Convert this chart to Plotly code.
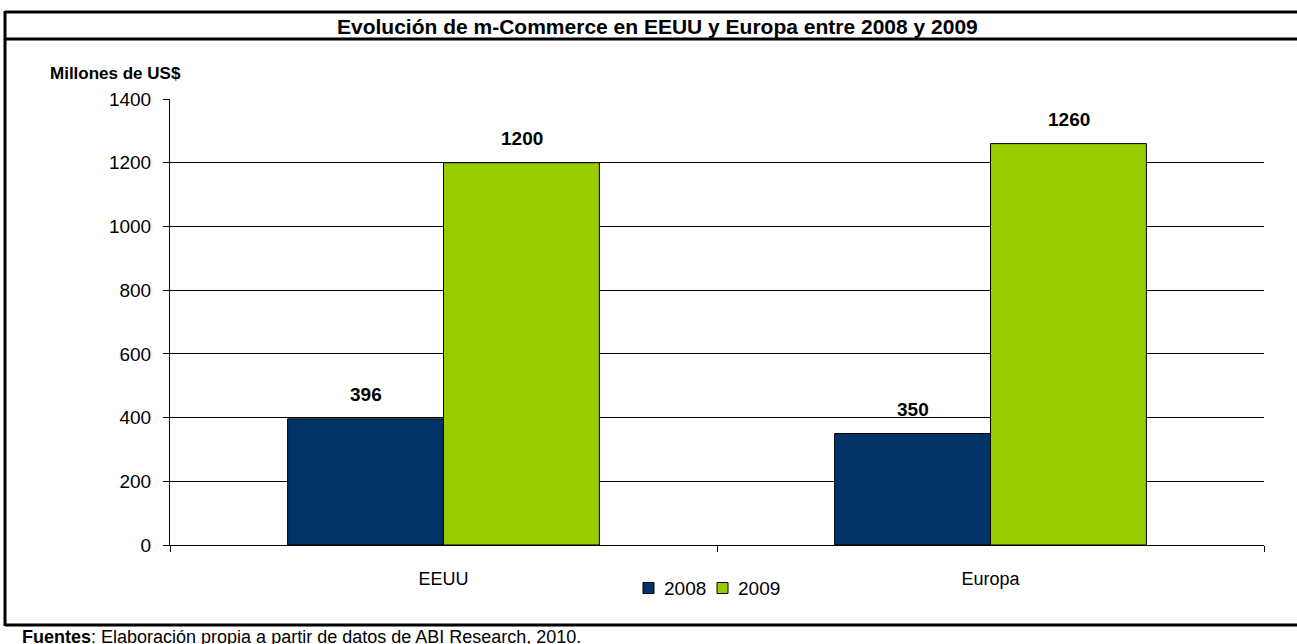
import plotly.graph_objects as go

categories = ["EEUU", "Europa"]
series_names = ["2008", "2009"]
values_2008 = [396, 350]
values_2009 = [1200, 1260]
colors = ["#003366", "#99CC00"]
y_ticks = [0, 200, 400, 600, 800, 1000, 1200, 1400]

title_text = "<b>Evolución de m-Commerce en EEUU y Europa entre 2008 y 2009</b>"
ylabel_text = "<b>Millones de US$</b>"
footer_text = "<b>Fuentes</b>: Elaboración propia a partir de datos de ABI Research, 2010."

W, H = 1297, 644
L, R, T, B = 170, 1264, 99, 545

def px(x):
    return (x - L) / (R - L)

def py(y):
    return (B - y) / (B - T)

fig = go.Figure()
for name, vals, col in zip(series_names, [values_2008, values_2009], colors):
    fig.add_trace(go.Bar(
        x=categories, y=vals, name=name,
        marker=dict(color=col, line=dict(color="black", width=1)),
    ))

FONT = "Liberation Sans, Arial, sans-serif"

annotations = []
bar_half = 78
for vals, shift in [(values_2008, -bar_half), (values_2009, bar_half)]:
    for c, v in zip(categories, vals):
        annotations.append(dict(
            x=c, y=v, xref="x", yref="y", text=f"<b>{v}</b>",
            showarrow=False, xshift=shift, yshift=24, yanchor="middle",
            font=dict(family=FONT, size=19, color="black"),
        ))

annotations += [
    dict(x=px(657), y=py(26), xref="paper", yref="paper", text=title_text,
         showarrow=False, xanchor="center", yanchor="middle",
         font=dict(family=FONT, size=21, color="black")),
    dict(x=px(48), y=py(74), xref="paper", yref="paper", text=ylabel_text,
         showarrow=False, xanchor="left", yanchor="middle",
         font=dict(family=FONT, size=17, color="black")),
    dict(x=px(20), y=py(637), xref="paper", yref="paper", text=footer_text,
         showarrow=False, xanchor="left", yanchor="middle",
         font=dict(family=FONT, size=18, color="black")),
]

shapes = []
def line(x0, y0, x1, y1, w=3):
    shapes.append(dict(type="line", xref="paper", yref="paper",
                       x0=px(x0), y0=py(y0), x1=px(x1), y1=py(y1),
                       line=dict(color="black", width=w)))

line(5, 12, 1302, 12)
line(5, 39, 1302, 39)
line(5, 11, 5, 626)
line(5, 625, 1302, 625)

legend_keys_x = [643, 717]
legend_y = 588
for name, col, kx in zip(series_names, colors, legend_keys_x):
    shapes.append(dict(type="rect", xref="paper", yref="paper",
                       x0=px(kx), x1=px(kx + 11), y0=py(legend_y - 5.5), y1=py(legend_y + 5.5),
                       line=dict(color="black", width=1), fillcolor=col))
    annotations.append(dict(x=px(kx + 19), y=py(legend_y), xref="paper", yref="paper",
                            text=name, showarrow=False, xanchor="left", yanchor="middle",
                            font=dict(family=FONT, size=19, color="black")))

fig.update_layout(
    width=W, height=H,
    margin=dict(l=L, r=W - R, t=T, b=H - B),
    paper_bgcolor="white", plot_bgcolor="white",
    barmode="group", bargap=0.43, bargroupgap=0,
    showlegend=False,
    font=dict(family=FONT, size=17, color="black"),
    annotations=annotations,
    shapes=shapes,
    xaxis=dict(range=[-0.5, 1.5], showline=True, linecolor="black", linewidth=1,
               ticks="outside", tickson="boundaries", ticklen=6, tickcolor="black",
               showgrid=False, tickfont=dict(family=FONT, size=18, color="black"),
               ticklabelstandoff=17),
    yaxis=dict(range=[0, 1400], tickvals=y_ticks, showline=True, linecolor="black",
               linewidth=1, ticks="outside", ticklen=6, tickcolor="black",
               showgrid=True, gridcolor="black", gridwidth=1, zeroline=False,
               tickfont=dict(family=FONT, size=19, color="black"),
               ticklabelstandoff=8),
)

fig.write_html("out.html", config={"staticPlot": True, "displayModeBar": False},
               post_script="document.body.style.margin='0px';document.body.style.overflow='hidden';")
